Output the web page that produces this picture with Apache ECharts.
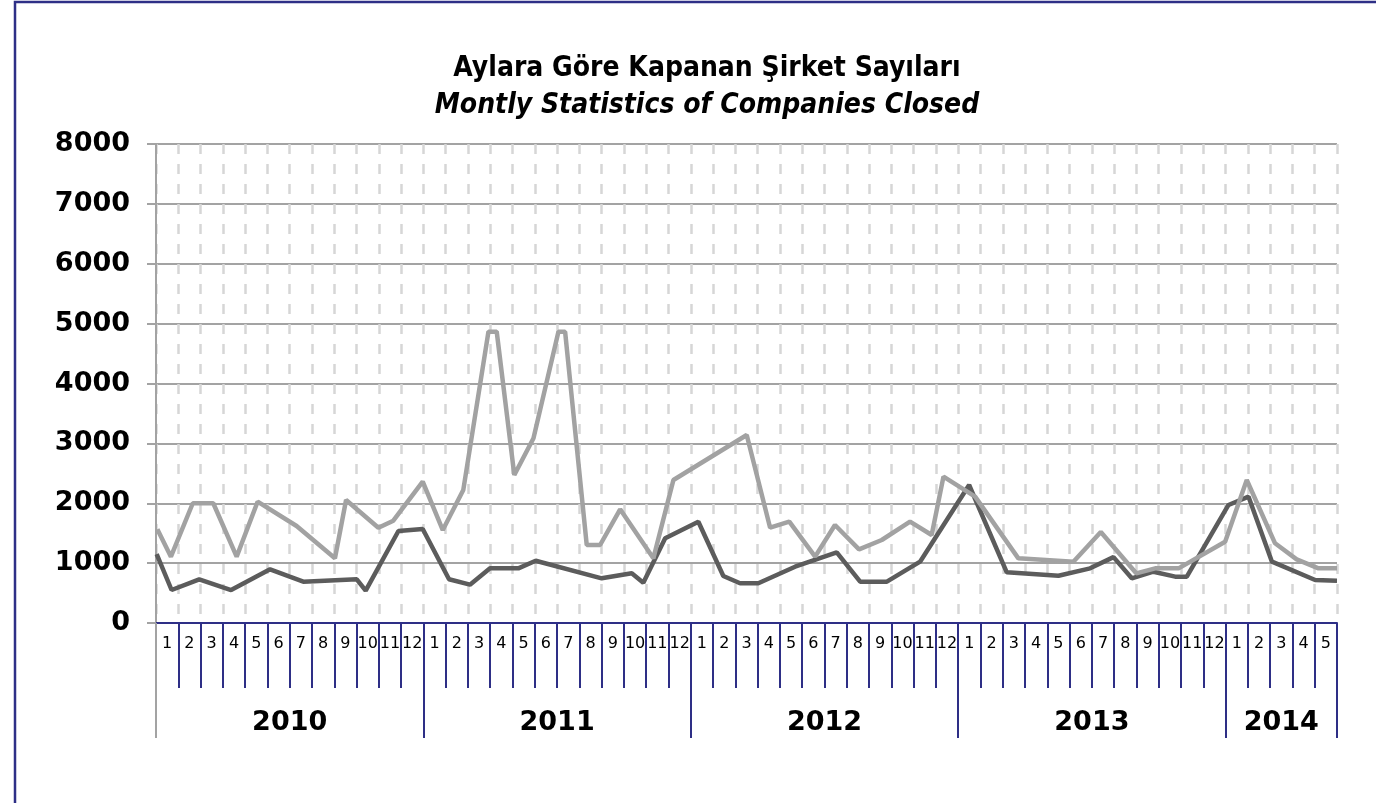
<!DOCTYPE html>
<html>
<head>
<meta charset="utf-8">
<script src="https://cdn.jsdelivr.net/npm/echarts@6/dist/echarts.min.js"></script>
<style>
  html, body { margin: 0; padding: 0; background: #fff; }
  #chart { width: 1376px; height: 803px; }
</style>
</head>
<body>
<div id="chart"></div>
<script>
// month labels for the category strip (2010-01 .. 2014-05)
const monthLabels = [];
for (let y = 0; y < 5; y++) {
    const n = y === 4 ? 5 : 12;
    for (let m = 1; m <= n; m++) monthLabels.push(String(m));
}

const yearNames = ['2010', '2011', '2012', '2013', '2014'];
const yearCenters = [6, 18, 30, 42, 50.5];
const yearBounds = [12, 24, 36, 48, 53];

// light grey series: position in months since 2010-01, value
const lightPos = [0.06, 0.67, 1.65, 2.57, 3.62, 4.56, 6.31, 8.03, 8.53, 9.98, 10.65, 11.97,
    12.87, 13.79, 14.92, 15.29, 16.08, 16.94, 18.06, 18.36, 19.33, 19.93, 20.83, 22.32,
    23.22, 26.51, 27.56, 28.42, 29.58, 30.47, 31.55, 32.57, 33.84, 34.81, 35.34, 36.76,
    38.70, 41.17, 42.40, 43.99, 44.84, 45.89, 47.98, 48.95, 50.22, 51.19, 52.17, 53.0];
const lightVal = [1565, 1108, 2000, 2000, 1108, 2026, 1620, 1080, 2054, 1592, 1709, 2360,
    1553, 2221, 4866, 4866, 2472, 3085, 4866, 4866, 1303, 1303, 1899, 1080,
    2388, 3140, 1592, 1692, 1108, 1637, 1231, 1386, 1692, 1470, 2444, 2110,
    1080, 1024, 1520, 830, 913, 913, 1358, 2388, 1331, 1063, 913, 913];

// dark grey series
const darkPos = [0.03, 0.70, 1.94, 3.37, 5.12, 6.61, 9.01, 9.41, 10.88, 11.97, 13.15, 14.09,
    14.99, 16.26, 17.04, 20.0, 21.35, 21.87, 22.85, 24.34, 25.46, 26.21, 27.03, 28.68,
    30.55, 31.60, 32.80, 34.29, 36.49, 38.18, 40.50, 41.92, 42.97, 43.79, 44.76, 45.74,
    46.26, 48.13, 49.03, 50.08, 52.02, 53.0];
const darkVal = [1152, 551, 730, 551, 897, 690, 730, 540, 1536, 1570, 730, 640,
    913, 913, 1040, 746, 830, 673, 1414, 1692, 785, 663, 663, 940,
    1181, 690, 690, 1024, 2305, 847, 790, 913, 1100, 746, 857, 774,
    774, 1971, 2110, 1024, 718, 707];

const yTicks = [0, 8000, 1000]; // min, max, step

const NAVY = '#2e2f86';
const GRID_GREY = '#a3a3a3';
const FONT = "'DejaVu Sans', sans-serif";
const TITLE_FONT = "'DejaVu Sans Condensed', 'Liberation Sans Narrow', sans-serif";

const chart = echarts.init(document.getElementById('chart'));

const pairs = (xs, vs) => xs.map((x, i) => [x, vs[i]]);

chart.setOption({
    backgroundColor: '#fff',
    animation: false,
    title: [{
        text: 'Aylara Göre Kapanan Şirket Sayıları',
        left: 702,
        top: 50,
        textAlign: 'center',
        textStyle: { fontFamily: TITLE_FONT, fontSize: 28, fontWeight: 'bold', color: '#000' },
    }, {
        text: 'Montly Statistics of Companies Closed',
        left: 702,
        top: 87,
        textAlign: 'center',
        textStyle: { fontFamily: TITLE_FONT, fontSize: 28, fontStyle: 'italic', fontWeight: 'bold', color: '#000' },
    }],
    graphic: [{
        type: 'rect',
        shape: { x: 15, y: 2, width: 1400, height: 900 },
        style: { fill: 'none', stroke: NAVY, lineWidth: 2.5 },
        silent: true,
    }],
    grid: { left: 156, right: 39, top: 144, bottom: 180 },
    xAxis: [
        {
            // value axis carrying the lines + dashed month separators
            type: 'value',
            min: 0,
            max: 53,
            interval: 1,
            position: 'bottom',
            axisLine: { show: true, lineStyle: { color: NAVY, width: 2 } },
            axisTick: { show: false },
            axisLabel: { show: false },
            splitLine: {
                show: true,
                lineStyle: { color: '#d6d6d6', width: 2.5, type: [10, 10] },
            },
        },
        {
            // month strip
            type: 'category',
            data: monthLabels,
            position: 'bottom',
            axisLine: { show: false },
            axisTick: { show: true, interval: 0, length: 65, lineStyle: { color: NAVY, width: 2 } },
            axisLabel: { interval: 0, fontFamily: FONT, fontSize: 16, color: '#000', margin: 13 },
            splitLine: { show: false },
        },
        {
            // year separators and labels
            type: 'value',
            min: 0,
            max: 53,
            position: 'bottom',
            axisLine: { show: false },
            axisTick: { show: true, customValues: yearBounds, length: 115, lineStyle: { color: NAVY, width: 2 } },
            axisLabel: {
                customValues: yearCenters,
                formatter: (v) => yearNames[yearCenters.indexOf(v)] || '',
                fontFamily: FONT, fontSize: 27, fontWeight: 'bold', color: '#000', margin: 86,
            },
            splitLine: { show: false },
        },
        {
            // grey extension of the left axis below the plot
            type: 'value',
            min: 0,
            max: 53,
            position: 'bottom',
            axisLine: { show: false },
            axisTick: { show: true, customValues: [0], length: 115, lineStyle: { color: GRID_GREY, width: 2 } },
            axisLabel: { show: false },
            splitLine: { show: false },
        },
    ],
    yAxis: {
        type: 'value',
        min: yTicks[0],
        max: yTicks[1],
        interval: yTicks[2],
        axisLine: { show: true, lineStyle: { color: GRID_GREY, width: 2 } },
        axisTick: { show: true, length: 9, lineStyle: { color: GRID_GREY, width: 2 } },
        axisLabel: {
            formatter: (v) => String(v),
            fontFamily: FONT, fontSize: 27, fontWeight: 'bold', color: '#000', margin: 26,
        },
        splitLine: { lineStyle: { color: GRID_GREY, width: 2 } },
    },
    series: [
        {
            name: 'dark',
            type: 'line',
            xAxisIndex: 0,
            data: pairs(darkPos, darkVal),
            showSymbol: false,
            lineStyle: { color: '#5c5c5c', width: 4.5 },
        },
        {
            name: 'light',
            type: 'line',
            xAxisIndex: 0,
            data: pairs(lightPos, lightVal),
            showSymbol: false,
            lineStyle: { color: '#a2a2a2', width: 4.5 },
        },
    ],
});
</script>
</body>
</html>
